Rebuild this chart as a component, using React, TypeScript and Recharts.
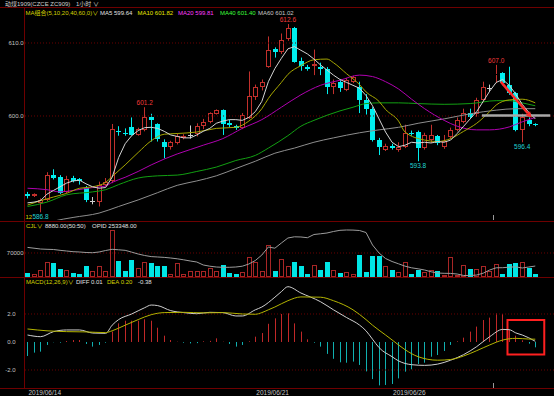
import { ComposedChart, Bar, Line, XAxis, YAxis, ReferenceLine, ReferenceDot, ReferenceArea } from 'recharts'

const FONT = '"Liberation Sans", "Noto Sans CJK SC", sans-serif'
const X_DOMAIN: [number, number] = [-0.384, 80.876]

// hourly candles, 2019/06/14 .. 2019/06/26
const opens = [589.3, 589.05, 588.1, 588.5, 591.9, 591.7, 589.6, 591.45, 591.3, 590.1,
  588.4, 588.2, 590.6, 591.1, 597.9, 597.7, 598.5, 597.4, 598.1, 599.9,
  598.9, 596.5, 595.8, 596.3, 597.0, 597.4, 597.5, 598.6, 599.2, 600.3,
  600.8, 599.1, 598.6, 598.4, 599.7, 602.6, 604.0, 606.75, 609.2, 608.8,
  610.6, 612.0, 607.5, 606.75, 606.8, 606.75, 606.5, 604.0, 604.6, 603.6,
  604.7, 604.0, 602.2, 601.0, 596.7, 595.4, 595.9, 595.3, 595.8, 597.7,
  597.85, 595.6, 596.7, 597.2, 595.8, 597.1, 598.1, 599.2, 600.4, 600.3,
  602.2, 603.8, 605.6, 605.85, 604.3, 603.1, 598.1, 599.45, 598.9]
const highs = [589.6, 589.4, 588.7, 592.3, 592.7, 591.9, 591.8, 591.8, 591.5, 590.4,
  588.9, 591.0, 591.5, 598.9, 598.6, 598.3, 599.8, 598.4, 601.2, 600.3,
  599.0, 596.8, 596.6, 597.6, 597.5, 598.7, 599.0, 599.6, 600.5, 600.9,
  600.9, 599.5, 598.8, 600.4, 606.1, 604.3, 605.0, 610.9, 609.4, 611.3,
  612.6, 612.2, 608.0, 607.0, 609.1, 607.3, 606.7, 605.0, 605.0, 605.2,
  605.5, 604.7, 603.0, 601.2, 597.0, 596.2, 596.2, 596.4, 598.8, 598.0,
  598.0, 597.7, 598.8, 597.4, 597.4, 598.4, 599.8, 601.0, 601.0, 602.5,
  604.7, 604.3, 607.0, 606.0, 606.75, 603.3, 600.3, 599.8, 599.0]
const lows = [588.7, 588.9, 586.8, 588.3, 591.3, 589.3, 589.4, 590.9, 590.6, 588.2,
  587.9, 587.6, 590.4, 590.8, 597.3, 597.3, 597.3, 597.3, 597.9, 596.5,
  596.5, 594.2, 595.4, 596.1, 596.8, 596.9, 597.2, 598.2, 599.0, 600.2,
  597.4, 598.5, 598.1, 598.2, 599.6, 602.2, 603.5, 606.6, 608.0, 608.5,
  610.3, 607.3, 606.2, 606.2, 605.6, 605.6, 603.0, 603.0, 603.3, 603.4,
  604.5, 600.4, 600.2, 596.5, 594.65, 595.2, 595.4, 595.1, 595.6, 597.3,
  593.8, 595.4, 596.3, 596.0, 595.5, 596.9, 597.9, 599.0, 599.7, 599.9,
  601.9, 603.3, 604.5, 604.2, 602.9, 597.9, 596.4, 598.6, 598.6]
const closes = [589.05, 589.3, 588.5, 591.9, 591.55, 589.5, 591.4, 591.1, 591.1, 588.5,
  588.4, 590.5, 591.0, 598.2, 597.75, 597.5, 597.4, 598.2, 599.85, 599.4,
  596.8, 595.7, 596.4, 597.2, 597.3, 597.4, 598.6, 599.2, 600.35, 600.8,
  598.9, 598.7, 598.3, 600.1, 602.7, 604.0, 604.7, 609.0, 608.8, 610.4,
  612.0, 607.45, 606.8, 606.45, 607.1, 606.4, 604.0, 604.5, 603.8, 604.9,
  605.3, 602.2, 600.9, 596.7, 595.7, 595.9, 595.6, 595.8, 597.7, 597.5,
  595.6, 597.4, 597.4, 596.3, 596.6, 598.1, 599.4, 600.4, 599.9, 602.2,
  604.0, 603.8, 605.8, 604.5, 603.1, 598.1, 599.9, 598.9, 598.8]

const volumes = [11700, 8800, 21400, 42800, 40800, 24300, 20400, 11700, 8800, 31100,
  16500, 33000, 18500, 136000, 45700, 18500, 50500, 26200, 42800, 40800,
  31100, 33000, 8800, 40800, 8800, 16500, 16500, 16500, 26200, 16500,
  35000, 10700, 9700, 14600, 58300, 42800, 16500, 92400, 18500, 52500,
  31100, 43800, 31100, 8800, 35900, 21400, 42800, 20400, 11700, 14600,
  8800, 65000, 14600, 62300, 62300, 31100, 19400, 14600, 43800, 7800,
  21400, 14600, 20400, 16500, 5800, 58300, 6800, 35900, 24300, 24300,
  33000, 16500, 37900, 8800, 37900, 40800, 42800, 26200, 9700]
const openInterest = [259040, 258800, 258550, 258460, 258400, 258150, 257940, 257730, 257640, 257480,
  257420, 257640, 258090, 258460, 258310, 258150, 257600, 257020, 256570, 256230,
  256110, 255990, 255800, 255560, 255250, 254890, 254580, 253670, 253300, 253050,
  252960, 252960, 253050, 253300, 253970, 255040, 256720, 259160, 258800, 260380,
  261910, 262280, 262220, 262000, 262980, 263200, 263440, 263900, 264260, 264360,
  264330, 264200, 263590, 259770, 257330, 255650, 254730, 254030, 253300, 252810,
  252500, 252140, 251590, 251220, 251130, 251100, 250910, 250460, 250430, 250610,
  251160, 252140, 252810, 252840, 253000, 253110, 252750, 253050, 253348]
const macdHist = [-1.0, -0.76, -0.69, -0.21, -0.02, -0.05, 0.07, 0.14, 0.14, -0.14,
  -0.33, -0.21, -0.05, 0.74, 1.33, 1.52, 1.52, 1.52, 1.62, 1.52,
  1.02, 0.45, 0.14, 0.02, -0.05, -0.1, -0.08, 0.05, 0.08, 0.26,
  0.02, -0.14, -0.33, -0.21, 0.05, 0.38, 0.64, 1.3, 1.69, 2.0,
  2.05, 1.33, 0.74, 0.19, -0.05, -0.33, -0.85, -1.2, -1.45, -1.48,
  -1.4, -1.64, -2.1, -2.65, -3.1, -3.07, -3.0, -2.6, -2.12, -1.95,
  -1.57, -1.48, -1.05, -0.93, -0.64, -0.21, 0.05, 0.31, 0.74, 1.1,
  1.57, 1.74, 2.05, 2.0, 0.9, 0.45, 0.12, -0.12, -0.38]

// [candle index, value]
const ma5Pts: [number, number][] = [[0, 588.1], [1, 588.2], [2, 588.4], [3, 589.3], [4, 589.8], [5, 590.3], [6, 590.8], [7, 591.1], [8, 591.2], [9, 590.7],
  [10, 590.3], [11, 590.1], [12, 590.2], [13, 591.6], [14, 594.3], [15, 596.2], [16, 597.3], [17, 598.0], [18, 598.4], [19, 598.45],
  [20, 598.3], [21, 597.9], [22, 597.4], [23, 597.2], [24, 597.0], [25, 597.0], [26, 597.4], [27, 597.9], [28, 598.3], [29, 599.0],
  [30, 599.3], [31, 599.5], [32, 599.5], [33, 599.4], [34, 599.8], [35, 600.6], [36, 602.0], [37, 604.7], [38, 606.5], [39, 607.9],
  [40, 609.2], [41, 609.5], [42, 609.0], [43, 608.5], [44, 607.8], [45, 607.0], [46, 606.3], [47, 605.6], [48, 605.0], [49, 604.6],
  [50, 604.2], [51, 603.8], [52, 602.8], [53, 601.4], [54, 599.6], [55, 597.8], [56, 596.4], [57, 595.8], [58, 596.0], [59, 596.4],
  [60, 596.3], [61, 596.4], [62, 596.3], [63, 596.5], [64, 596.4], [65, 596.7], [66, 597.6], [67, 598.6], [68, 599.6], [69, 600.6],
  [70, 602.0], [71, 603.4], [72, 604.6], [73, 605.0], [74, 604.2], [75, 603.0], [76, 601.6], [77, 600.5], [78, 599.6]]
const ma10Pts: [number, number][] = [[0, 587.8], [2, 588.4], [4, 588.9], [6, 589.4], [8, 590.1], [10, 590.3], [12, 590.9], [13, 591.7], [15, 593.3], [17, 595.0],
  [19, 596.6], [21, 597.5], [23, 597.6], [26, 597.8], [29, 598.3], [32, 598.45], [34, 599.3], [36, 601.0], [37, 602.4], [39, 604.6],
  [40, 605.7], [42, 606.9], [44, 607.7], [46, 607.8], [47, 607.3], [49, 605.8], [51, 604.3], [52, 603.3], [54, 602.0], [55, 600.9],
  [57, 599.3], [58, 597.8], [61, 596.7], [63, 596.5], [65, 596.9], [67, 597.9], [69, 599.0], [71, 600.6], [72, 601.5], [74, 602.2],
  [76, 602.3], [78, 601.8]]
const ma20Pts: [number, number][] = [[0, 590.1], [3, 589.9], [5, 589.6], [7, 589.8], [10, 590.2], [12, 590.4], [13, 590.9], [15, 591.6], [17, 592.4], [19, 593.3],
  [21, 594.1], [23, 594.8], [25, 595.4], [27, 596.0], [30, 596.9], [33, 598.3], [36, 599.5], [39, 601.2], [42, 602.9], [45, 604.2],
  [48, 604.9], [51, 605.6], [53, 605.4], [55, 604.7], [57, 603.7], [59, 602.3], [61, 601.0], [64, 599.4], [66, 598.6], [69, 598.1],
  [71, 598.1], [74, 598.5], [76, 599.2], [78, 599.8]]
const ma40Pts: [number, number][] = [[0, 587.6], [3, 588.2], [6, 589.2], [10, 589.6], [12, 589.9], [14, 590.6], [17, 591.5], [20, 591.8], [23, 591.9], [26, 592.4],
  [29, 593.0], [32, 593.9], [35, 594.6], [37, 595.6], [40, 597.3], [42, 598.6], [44, 599.4], [46, 600.1], [48, 600.7], [50, 601.2],
  [52, 601.7], [54, 601.8], [57, 601.8], [60, 601.7], [64, 601.6], [68, 601.7], [72, 602.1], [74, 602.1], [76, 601.8], [78, 601.4]]
const ma60Pts: [number, number][] = [[0, 584.5], [4, 585.6], [7, 586.1], [11, 586.7], [14, 587.6], [17, 588.5], [20, 589.5], [23, 590.5], [26, 591.1], [29, 591.8],
  [32, 592.8], [35, 593.8], [38, 594.9], [41, 595.6], [44, 596.4], [47, 597.0], [51, 597.7], [54, 598.1], [57, 598.45], [60, 599.0],
  [64, 599.6], [68, 600.3], [72, 600.8], [75, 601.0], [78, 601.0]]
const diffPts: [number, number][] = [[0, 0.5], [2, 0.38], [4, 0.74], [6, 0.86], [8, 0.86], [10, 0.64], [12, 0.62], [13, 1.2], [14, 1.6], [16, 2.0],
  [18, 2.45], [19, 2.64], [20, 2.6], [22, 2.24], [24, 2.1], [26, 2.02], [28, 2.12], [30, 2.1], [32, 1.86], [33, 1.86],
  [35, 2.3], [36, 2.5], [38, 3.2], [39, 3.6], [40, 3.95], [42, 3.5], [45, 2.88], [47, 2.3], [49, 1.75], [51, 1.21],
  [52, 0.8], [53, 0.2], [54, -0.4], [56, -1.05], [57, -1.35], [59, -1.62], [61, -1.67], [63, -1.58], [65, -1.3], [67, -0.9],
  [69, -0.33], [71, 0.38], [73, 0.9], [74, 0.88], [75, 0.65], [76, 0.5], [77, 0.3], [78, 0.05]]
const deaPts: [number, number][] = [[0, 0.93], [3, 0.8], [6, 0.74], [9, 0.72], [12, 0.67], [13, 0.8], [15, 1.2], [17, 1.6], [19, 1.95], [21, 2.1],
  [24, 2.12], [27, 2.08], [30, 2.1], [33, 2.0], [35, 1.98], [36, 2.1], [37, 2.3], [38, 2.5], [40, 2.95], [42, 3.22],
  [45, 3.2], [47, 2.95], [50, 2.3], [52, 1.6], [53, 1.2], [55, 0.5], [56, 0.15], [58, -0.55], [60, -1.05], [63, -1.3],
  [65, -1.25], [67, -1.0], [69, -0.62], [71, -0.21], [73, 0.14], [75, 0.26], [77, 0.21], [78, 0.2]]

const dateTicks = [0, 35, 56]
const dateLabels = ['2019/06/14', '2019/06/21', '2019/06/26']
const priceTicks = [600, 610]
const volTicks = [70000]
const macdTicks = [2, 0, -2]
const extremes = [
  { i: 40, high: true }, { i: 18, high: true }, { i: 72, high: true },
  { i: 60, high: false }, { i: 76, high: false }, { i: 2, high: false },
]

// hand-drawn marks on the chart
const flatMark = [{ x: 69.8, y: 600.05 }, { x: 80.3, y: 600.05 }]
const arrowMark = [{ x: 72.7, y: 604.7 }, { x: 77.45, y: 599.75 }]
const macdBox = { x1: 73.73, x2: 79.38, y1: -0.89, y2: 1.57 }

const UP = '#c2302c'
const DOWN = '#00eeee'
const DOJI = '#d0d0d0'
const VOL_UP = '#a82626'
const VOL_DOWN = '#00e6e6'
const LINE_RED = '#6e0000'
const GRID = '#6a0000'
const AXIS_TXT = '#c4c4c4'

const lookup = (pts: [number, number][]) => new Map(pts)
const m5 = lookup(ma5Pts), m10 = lookup(ma10Pts), m20 = lookup(ma20Pts), m40 = lookup(ma40Pts), m60 = lookup(ma60Pts)
const mDiff = lookup(diffPts), mDea = lookup(deaPts)

const rows = opens.map((open, i) => ({
  i,
  open,
  high: highs[i],
  low: lows[i],
  close: closes[i],
  vol: volumes[i],
  oi: openInterest[i],
  hist: macdHist[i],
  ma5: m5.get(i) ?? null,
  ma10: m10.get(i) ?? null,
  ma20: m20.get(i) ?? null,
  ma40: m40.get(i) ?? null,
  ma60: m60.get(i) ?? null,
  diff: mDiff.get(i) ?? null,
  dea: mDea.get(i) ?? null,
}))

function renderCandle(props: any) {
  const { x, y, width, height, payload } = props
  if (x == null || y == null || !payload) return <g />
  const { open, close, high, low } = payload
  const top = Math.min(y, y + height)
  const span = Math.abs(height)
  const k = high > low ? span / (high - low) : 0
  const py = (v: number) => top + (high - v) * k
  const bx = Math.round(x)
  const bw = Math.round(width)
  const cx = bx + Math.floor(bw / 2) + 0.5
  const yH = py(high)
  const yL = py(low)
  if (open === close) {
    const yo = Math.round(py(open)) + 0.5
    return (
      <g>
        <line x1={cx} x2={cx} y1={yH} y2={yL} stroke={DOJI} />
        <line x1={bx} x2={bx + bw} y1={yo} y2={yo} stroke={DOJI} />
      </g>
    )
  }
  if (close > open) {
    const yt = Math.round(py(close))
    const yb = Math.round(py(open))
    return (
      <g>
        <line x1={cx} x2={cx} y1={yH} y2={yt} stroke={UP} />
        <line x1={cx} x2={cx} y1={yb} y2={yL} stroke={UP} />
        <rect x={bx + 0.5} y={yt + 0.5} width={bw - 1} height={Math.max(yb - yt - 1, 0)} fill="none" stroke={UP} />
      </g>
    )
  }
  const yt = Math.round(py(open))
  const yb = Math.round(py(close))
  return (
    <g>
      <line x1={cx} x2={cx} y1={yH} y2={yL} stroke={DOWN} />
      <rect x={bx} y={yt} width={bw} height={Math.max(yb - yt, 1)} fill={DOWN} />
    </g>
  )
}

function renderVolume(props: any) {
  const { x, y, width, height, payload } = props
  if (x == null || y == null || !payload) return <g />
  const bx = Math.round(x)
  const bw = Math.round(width)
  const t = Math.round(Math.min(y, y + height))
  const b = Math.round(Math.max(y, y + height))
  if (payload.close >= payload.open) {
    return <rect x={bx + 0.5} y={t + 0.5} width={bw - 1} height={Math.max(b - t - 1, 0)} fill="none" stroke={VOL_UP} />
  }
  return <rect x={bx} y={t} width={bw} height={Math.max(b - t, 1)} fill={VOL_DOWN} />
}

function renderHist(props: any) {
  const { x, y, width, height, payload } = props
  if (x == null || y == null || !payload) return <g />
  const cx = Math.round(x + width / 2 - 0.5) + 0.5
  return <line x1={cx} x2={cx} y1={y} y2={y + height} stroke={payload.hist >= 0 ? '#c02828' : '#10b0b0'} />
}

function renderArrow(props: any) {
  const { x1, y1, x2, y2 } = props
  if (x1 == null) return <g />
  const a = Math.atan2(y2 - y1, x2 - x1)
  const c = Math.cos(a), s = Math.sin(a)
  const bx = x2 - 6 * c, by = y2 - 6 * s
  return (
    <g>
      <line x1={x1} y1={y1} x2={bx} y2={by} stroke="#ff2a2a" strokeWidth={2.5} />
      <polygon points={`${x2},${y2} ${bx - 3 * s},${by + 3 * c} ${bx + 3 * s},${by - 3 * c}`} fill="#ff2a2a" />
    </g>
  )
}

function renderDateTick(p: any) {
  const idx = dateTicks.indexOf(p.payload.value)
  return (
    <text x={p.x + 1} y={116.5} fill={AXIS_TXT} fontSize={6.5} textAnchor="start">
      {dateLabels[idx]}
    </text>
  )
}

const hLine = (top: number) => (
  <div style={{ position: 'absolute', left: 0, top, width: 554, height: 1, background: LINE_RED }} />
)

const T = ({ x, y, c, children }: { x: number; y: number; c: string; children: any }) => (
  <text x={x} y={y} fill={c} fontSize={6} dominantBaseline="central">{children}</text>
)

export default function App() {
  return (
    <div style={{ position: 'fixed', left: 0, top: 0, width: 554, height: 396, background: '#000', overflow: 'hidden', fontFamily: FONT }}>
      <div style={{ position: 'absolute', left: 0, top: 8 }}>
        <ComposedChart width={554} height={213} data={rows} margin={{ top: 12, right: 0, bottom: 1, left: 0 }}>
          <XAxis dataKey="i" type="number" domain={X_DOMAIN} allowDataOverflow hide />
          <YAxis domain={[585.75, 613.15]} allowDataOverflow ticks={priceTicks} interval={0} width={25}
            axisLine={false} tickLine={false} tickSize={0} tickMargin={1.5}
            tick={{ fill: AXIS_TXT, fontSize: 6 }} tickFormatter={(v: number) => v.toFixed(1)} />
          {priceTicks.map(v => (
            <ReferenceLine key={v} y={v} stroke={GRID} strokeDasharray="1 2" />
          ))}
          <Bar dataKey={(d: any) => [d.low, d.high]} barSize={5} shape={renderCandle} isAnimationActive={false} />
          <Line dataKey="ma60" type="monotone" stroke="#8e8e8e" strokeWidth={1} dot={false} connectNulls isAnimationActive={false} />
          <Line dataKey="ma40" type="monotone" stroke="#12a012" strokeWidth={1} dot={false} connectNulls isAnimationActive={false} />
          <Line dataKey="ma20" type="monotone" stroke="#b000b0" strokeWidth={1} dot={false} connectNulls isAnimationActive={false} />
          <Line dataKey="ma10" type="monotone" stroke="#a6a600" strokeWidth={1} dot={false} connectNulls isAnimationActive={false} />
          <Line dataKey="ma5" type="linear" stroke="#d4d4d4" strokeWidth={1} dot={false} connectNulls isAnimationActive={false} />
          <ReferenceLine segment={flatMark} stroke="#a8a8a8" strokeWidth={2.5} />
          <ReferenceLine segment={arrowMark} shape={renderArrow} />
          {extremes.map(e => {
            const v = e.high ? highs[e.i] : lows[e.i]
            return (
              <ReferenceDot key={e.i} x={e.i} y={v} r={0}
                shape={(p: any) => (
                  <text x={p.cx} y={e.high ? p.cy - 2 : p.cy + 7} fill={e.high ? '#f03a3a' : '#20d4d4'} fontSize={6.5} textAnchor="middle">
                    {v.toFixed(1)}
                  </text>
                )} />
            )
          })}
        </ComposedChart>
      </div>

      <div style={{ position: 'absolute', left: 0, top: 221 }}>
        <ComposedChart width={554} height={56} data={rows} margin={{ top: 1, right: 0, bottom: 0, left: 0 }}>
          <XAxis dataKey="i" type="number" domain={X_DOMAIN} allowDataOverflow hide />
          <YAxis domain={[0, 160400]} allowDataOverflow ticks={volTicks} interval={0} width={25}
            axisLine={false} tickLine={false} tickSize={0} tickMargin={1.5}
            tick={{ fill: AXIS_TXT, fontSize: 6 }} />
          <YAxis yAxisId="oi" orientation="right" domain={[250000, 266800]} allowDataOverflow hide />
          <ReferenceLine y={70000} stroke={GRID} strokeDasharray="1 2" />
          <Bar dataKey="vol" barSize={5} shape={renderVolume} isAnimationActive={false} />
          <Line yAxisId="oi" dataKey="oi" type="linear" stroke="#9c9c9c" strokeWidth={1} dot={false} isAnimationActive={false} />
        </ComposedChart>
      </div>

      <div style={{ position: 'absolute', left: 0, top: 278 }}>
        <ComposedChart width={554} height={118} data={rows} margin={{ top: 8, right: 0, bottom: 0, left: 0 }}>
          <XAxis dataKey="i" type="number" domain={X_DOMAIN} allowDataOverflow ticks={dateTicks} interval={0}
            height={8} axisLine={false} tickLine={false} tick={renderDateTick} />
          <YAxis domain={[-3.286, 4.0]} allowDataOverflow ticks={macdTicks} interval={0} width={25}
            axisLine={false} tickLine={false} tickSize={0} tickMargin={9.5}
            tick={{ fill: AXIS_TXT, fontSize: 6 }} tickFormatter={(v: number) => v.toFixed(1)} />
          <ReferenceLine y={2} stroke={GRID} strokeDasharray="1 2" />
          <ReferenceLine y={-2} stroke={GRID} strokeDasharray="1 2" />
          <Bar dataKey="hist" barSize={1} shape={renderHist} isAnimationActive={false} />
          <Line dataKey="diff" type="monotone" stroke="#cfcfcf" strokeWidth={1} dot={false} connectNulls isAnimationActive={false} />
          <Line dataKey="dea" type="monotone" stroke="#b4b400" strokeWidth={1} dot={false} connectNulls isAnimationActive={false} />
          <ReferenceArea x1={macdBox.x1} x2={macdBox.x2} y1={macdBox.y1} y2={macdBox.y2}
            fill="none" stroke="#ff2020" strokeWidth={2} />
        </ComposedChart>
      </div>

      {hLine(7)}
      {hLine(221)}
      {hLine(277)}
      {hLine(388)}
      <div style={{ position: 'absolute', left: 24, top: 8, width: 1, height: 380, background: LINE_RED }} />
      <div style={{ position: 'absolute', left: 493, top: 215, width: 1, height: 5, background: '#9a9a9a' }} />
      <div style={{ position: 'absolute', left: 493, top: 383, width: 1, height: 5, background: '#9a9a9a' }} />

      <svg width={554} height={396} style={{ position: 'absolute', left: 0, top: 0, pointerEvents: 'none' }}>
        <T x={5} y={3.5} c="#cfcfcf">动煤1909(CZCE ZC909)</T>
        <T x={76} y={3.5} c="#cfcfcf">1小时 ∨</T>

        <T x={25.5} y={13.3} c="#d2d200">MA组合(5,10,20,40,60,0)∨</T>
        <T x={100} y={13.3} c="#e0e0e0">MA5 599.64</T>
        <T x={137.5} y={13.3} c="#e6e600">MA10 601.82</T>
        <T x={178} y={13.3} c="#ff3cff">MA20 599.81</T>
        <T x={220} y={13.3} c="#3cff3c">MA40 601.40</T>
        <T x={258} y={13.3} c="#c8c8c8">MA60 601.02</T>

        <T x={25.5} y={216.5} c="#d2d200">12</T>

        <T x={26} y={226} c="#d2d200">CJL∨</T>
        <T x={45} y={226} c="#e0e0e0">8880.00(50:50)</T>
        <T x={92} y={226} c="#e0e0e0">OPID 253348.00</T>

        <T x={26} y={282} c="#d2d200">MACD(12,26,9)∨</T>
        <T x={76} y={282} c="#e0e0e0">DIFF 0.01</T>
        <T x={107} y={282} c="#d2d200">DEA 0.20</T>
        <T x={138} y={282} c="#e0e0e0">-0.38</T>
      </svg>
    </div>
  )
}
